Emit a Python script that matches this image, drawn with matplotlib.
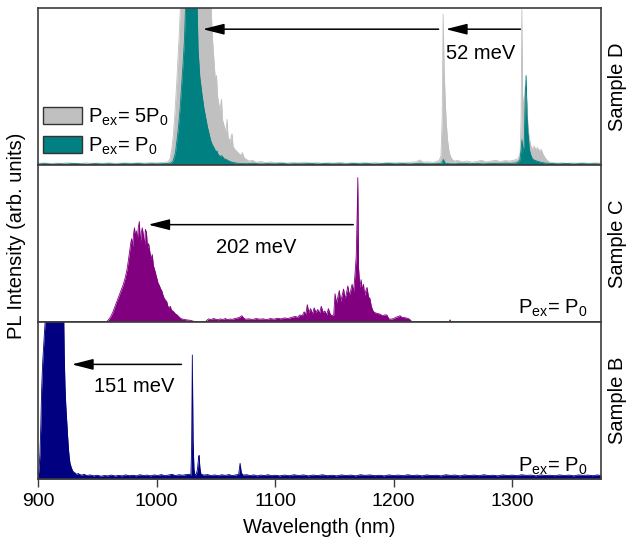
import numpy as np
import matplotlib
matplotlib.use("Agg")
import matplotlib.pyplot as plt
from matplotlib.patches import Patch

plt.rcParams['font.family'] = ['Liberation Sans', 'DejaVu Sans']
plt.rcParams['mathtext.fontset'] = 'custom'
plt.rcParams['mathtext.rm'] = 'Liberation Sans'

# Sample D, P_ex = 5 P0  (wavelength nm, normalised intensity)
d_high = [(900, .010), (905, .013), (910, .009), (915, .012), (920, .010), (925, .014), (930, .011),
          (935, .009), (940, .013), (945, .010), (950, .012), (955, .011), (960, .014), (965, .010),
          (970, .012), (975, .013), (980, .011), (985, .014), (990, .012), (995, .015), (1000, .013),
          (1004, .016), (1008, .018), (1010, .022), (1011.4, .04), (1012.8, .10), (1014.2, .19),
          (1015.6, .34), (1017, .52), (1018.2, .70), (1019.2, .84), (1020.7, 1.1), (1025, 1.6),
          (1030, 1.8), (1035, 1.7), (1040, 1.5), (1045, 1.2), (1046.3, .95), (1047.2, .80),
          (1048.5, .66), (1049.8, .52), (1050.6, .57), (1051.4, .44), (1052.5, .39), (1053.5, .35),
          (1054.8, .42), (1055.6, .29), (1057, .25), (1058.5, .21), (1059.5, .29), (1060.3, .18),
          (1062, .15), (1063.7, .20), (1064.5, .12), (1066, .10), (1068, .085), (1070, .07),
          (1071.5, .06), (1072.3, .08), (1074, .045), (1076, .035), (1078, .025), (1081, .03),
          (1084, .018), (1088, .022), (1092, .015), (1096, .02), (1100, .014), (1105, .018),
          (1110, .012), (1115, .016), (1120, .013), (1125, .018), (1130, .012), (1135, .015),
          (1140, .011), (1145, .014), (1150, .012), (1155, .016), (1160, .011), (1165, .014),
          (1170, .012), (1175, .015), (1180, .012), (1185, .014), (1190, .011), (1195, .016),
          (1200, .013), (1205, .015), (1210, .014), (1215, .018), (1219, .02), (1222, .032),
          (1225, .018), (1229, .02), (1233, .016), (1236, .022), (1238.5, .03), (1240, .06),
          (1241, .3), (1241.8, .96), (1242.6, .62), (1243.5, .42), (1244.5, .26), (1245.5, .16),
          (1246.5, .1), (1247.5, .065), (1249, .04), (1251, .025), (1254, .03), (1258, .02),
          (1262, .025), (1266, .018), (1270, .022), (1274, .03), (1278, .02), (1282, .025),
          (1286, .03), (1290, .022), (1294, .028), (1298, .025), (1302, .032), (1305, .04),
          (1306.8, .08), (1307.6, .3), (1308.2, .99), (1308.8, .45), (1310, .35), (1311, .5),
          (1312, .45), (1313, .3), (1314, .2), (1315.5, .13), (1317, .1), (1318.5, .12),
          (1320, .1), (1321.5, .11), (1323, .09), (1324.5, .1), (1326, .07), (1327.5, .05),
          (1329, .035), (1331, .02), (1334, .015), (1338, .012), (1342, .014), (1346, .011),
          (1350, .013), (1355, .012), (1360, .014), (1365, .011), (1370, .013), (1375, .012)]

# Sample D, P_ex = P0
d_low = [(900, .006), (906, .009), (912, .005), (918, .008), (924, .006), (930, .010), (936, .007),
         (942, .005), (948, .009), (954, .006), (960, .008), (966, .005), (972, .009), (978, .007),
         (984, .010), (990, .006), (996, .008), (1002, .007), (1008, .009), (1012, .012),
         (1014, .025), (1016, .08), (1018.4, .23), (1020, .37), (1021.3, .52), (1022.5, .66),
         (1023.5, .79), (1024.9, 1.1), (1028, 1.5), (1031, 1.4), (1034, 1.1), (1035, .74),
         (1036.5, .56), (1037.5, .5), (1038.5, .44), (1040, .36), (1041.5, .3), (1043, .24),
         (1044, .21), (1045.5, .16), (1047, .13), (1048.5, .11), (1050, .085), (1051, .09),
         (1052, .065), (1054, .055), (1055, .06), (1057, .04), (1059, .035), (1062, .022),
         (1066, .014), (1070, .010), (1076, .008), (1082, .011), (1088, .006), (1094, .009),
         (1100, .007), (1106, .010), (1112, .006), (1118, .008), (1124, .007), (1130, .010),
         (1136, .006), (1142, .009), (1148, .007), (1154, .008), (1160, .006), (1166, .010),
         (1172, .007), (1178, .009), (1184, .006), (1190, .008), (1196, .010), (1202, .007),
         (1208, .009), (1214, .006), (1220, .010), (1226, .008), (1232, .007), (1238, .009),
         (1240.5, .012), (1242, .035), (1243.5, .012), (1247, .008), (1252, .007), (1258, .011),
         (1264, .008), (1270, .010), (1276, .007), (1282, .011), (1288, .009), (1294, .012),
         (1300, .010), (1304, .014), (1306.5, .03), (1307.6, .1), (1308.3, .16), (1309.2, .08),
         (1310.2, .13), (1311, .42), (1311.8, .57), (1312.6, .32), (1313.5, .2), (1314.5, .1),
         (1315.5, .07), (1317, .04), (1319, .03), (1321, .025), (1324, .018), (1328, .012),
         (1334, .009), (1340, .007), (1346, .010), (1352, .006), (1358, .009), (1364, .007),
         (1370, .008), (1375, .006)]

# Sample C, P_ex = P0
c_low = [(900, 0), (957, 0), (958.5, .006), (961, .03), (963, .06), (964.5, .09), (966.4, .13),
         (968, .16), (970, .2), (972, .24), (973.5, .28), (975, .33), (976.2, .39), (977.3, .45),
         (978.2, .5), (979, .53), (979.8, .48), (980.6, .56), (981.4, .6), (982.2, .54), (983, .58),
         (983.8, .52), (984.6, .6), (985.5, .64), (986.3, .5), (987.2, .57), (988, .6), (988.9, .55),
         (989.8, .48), (990.6, .59), (991.5, .57), (992.4, .47), (993.3, .5), (994.5, .44),
         (995.5, .4), (996.4, .43), (997.3, .36), (998.5, .33), (999.5, .3), (1000.2, .28),
         (1001.2, .25), (1002.5, .23), (1003.5, .21), (1004.4, .2), (1005.5, .17), (1006.5, .15),
         (1007.5, .14), (1008.6, .13), (1009.6, .1), (1010.6, .09), (1011.6, .1), (1012.6, .075),
         (1013.9, .07), (1015, .06), (1016.2, .05), (1017.5, .045), (1018.6, .035), (1019.8, .027),
         (1021, .02), (1023, .017), (1025, .014), (1027, .012), (1029, .01), (1031, .005),
         (1034, .002), (1038, 0), (1041, 0), (1042.6, .012), (1044, .02), (1046, .015), (1048, .022),
         (1050, .018), (1052, .014), (1054, .02), (1056, .016), (1058, .022), (1060, .015),
         (1062, .019), (1064, .017), (1066, .022), (1068, .025), (1070, .03), (1072, .04),
         (1073.5, .025), (1075, .018), (1078, .02), (1081, .016), (1084, .022), (1087, .018),
         (1090, .02), (1093, .015), (1096, .022), (1099, .018), (1102, .024), (1105, .02),
         (1108, .026), (1111, .022), (1114, .03), (1117, .035), (1119, .03), (1121, .045),
         (1123, .04), (1124.5, .065), (1126, .05), (1127.2, .11), (1128.5, .06), (1130, .085),
         (1131.5, .05), (1133, .09), (1134.5, .06), (1136, .08), (1137.5, .055), (1139, .1),
         (1140.5, .06), (1142, .07), (1143.5, .045), (1145, .085), (1146.5, .05), (1148, .04),
         (1149.5, .045), (1150.6, .18), (1151.8, .12), (1153, .16), (1154.2, .2), (1155.4, .13),
         (1156.6, .17), (1157.8, .21), (1159, .15), (1160.2, .18), (1161.4, .23), (1162.6, .17),
         (1163.8, .2), (1165, .24), (1166.2, .19), (1167.4, .3), (1168.5, .42), (1169.3, .7),
         (1169.8, .92), (1170.4, .35), (1171.5, .22), (1172.6, .27), (1173.6, .2), (1174.6, .24),
         (1175.6, .17), (1176.6, .2), (1177.6, .22), (1178.8, .16), (1180, .15), (1181.2, .1),
         (1182.7, .07), (1184, .06), (1186, .055), (1188.6, .05), (1190.5, .04), (1192.5, .045),
         (1194.3, .045), (1196, .02), (1198, .018), (1200, .022), (1202, .03), (1204, .035),
         (1205.5, .04), (1207, .03), (1209, .028), (1211, .025), (1213, .02), (1214.5, .01),
         (1215.5, 0), (1246.8, 0), (1247.7, .014), (1248.6, 0), (1375, 0)]

# Sample B, P_ex = P0
b_low = [(900, .01), (900.5, .04), (901.1, .09), (901.7, .17), (902.4, .35), (903.1, .58), (904, .75),
         (905, .88), (906, 1.0), (907.3, 1.2), (910, 1.5), (914, 1.6), (918, 1.5), (921.4, 1.2),
         (922.1, .8), (922.8, .58), (923.5, .46), (924.2, .37), (924.9, .28), (925.6, .2),
         (926.3, .14), (927, .1), (928, .075), (929, .055), (929.8, .046), (931, .04), (932.5, .03),
         (934, .035), (935.4, .028), (937, .025), (939, .03), (941, .022), (944, .026), (947, .02),
         (950, .024), (953, .018), (956, .022), (959, .02), (962, .025), (965, .019), (968, .023),
         (971, .02), (974, .026), (977, .021), (980, .024), (983, .02), (986, .027), (989, .022),
         (992, .025), (995, .02), (998, .026), (1001, .022), (1004, .028), (1007, .021),
         (1010, .025), (1013, .03), (1016, .022), (1019, .027), (1022, .024), (1025, .028),
         (1027.5, .03), (1029, .025), (1029.6, .2), (1030.2, .79), (1030.8, .25), (1031.6, .06),
         (1032.5, .025), (1033.5, .03), (1034.5, .06), (1035.4, .13), (1035.9, .15), (1036.6, .07),
         (1037.5, .03), (1040, .025), (1043, .028), (1046, .022), (1049, .026), (1052, .021),
         (1055, .027), (1058, .023), (1061, .028), (1064, .022), (1067, .026), (1069.3, .03),
         (1070.5, .1), (1071.5, .04), (1073, .025), (1076, .027), (1079, .022), (1082, .026),
         (1085, .02), (1088, .025), (1091, .022), (1094, .027), (1097, .021), (1100, .024),
         (1104, .02), (1108, .025), (1112, .021), (1116, .027), (1120, .022), (1124, .026),
         (1128, .02), (1132, .025), (1136, .022), (1140, .027), (1144, .021), (1148, .024),
         (1152, .02), (1156, .026), (1160, .022), (1164, .025), (1168, .02), (1172, .027),
         (1176, .023), (1180, .026), (1184, .021), (1188, .024), (1192, .02), (1196, .026),
         (1200, .022), (1204, .025), (1208, .021), (1212, .027), (1216, .022), (1220, .025),
         (1224, .02), (1228, .026), (1232, .022), (1236, .024), (1240, .02), (1244, .027),
         (1248, .023), (1252, .025), (1256, .02), (1260, .026), (1264, .022), (1268, .025),
         (1272, .021), (1276, .027), (1280, .022), (1284, .024), (1288, .02), (1292, .026),
         (1296, .022), (1300, .025), (1304, .021), (1308, .027), (1312, .023), (1316, .025),
         (1320, .02), (1324, .026), (1328, .022), (1332, .024), (1336, .021), (1340, .026),
         (1344, .022), (1348, .025), (1352, .02), (1356, .026), (1360, .023), (1364, .025),
         (1368, .021), (1372, .026), (1375, .022)]

# arrows: (tip wavelength, tail wavelength, height) and energy labels
arrows_d = [(1039, 1238, 0.865), (1244, 1307, 0.865)]
arrow_c = (993, 1166, 0.62)
arrow_b = (928.5, 1021, 0.73)
shift_labels = ["52 meV", "202 meV", "151 meV"]
sample_names = ["Sample D", "Sample C", "Sample B"]

col_gray = '#c0c0c0'
col_teal = '#008080'
col_purple = '#800080'
col_navy = '#000080'
spine_col = '#3c3c3c'
fs = 14.5

fig, axes = plt.subplots(3, 1, figsize=(6.26, 5.49), dpi=100, sharex=True)
fig.subplots_adjust(left=38/626, right=601/626, top=1-8/549, bottom=1-479/549, hspace=0)


def draw_spec(ax, data, color):
    wl, inten = np.array(data).T
    ax.fill_between(wl, 0, inten, color=color, lw=0)
    ax.plot(wl, inten, color=color, lw=0.6)


def arrow(ax, tip, tail, y):
    ax.annotate('', xy=(tip, y), xytext=(tail, y),
                arrowprops=dict(arrowstyle='-|>,head_length=1.3,head_width=0.33',
                                mutation_scale=10, color='black', lw=1.1,
                                shrinkA=0, shrinkB=0))


draw_spec(axes[0], d_high, col_gray)
draw_spec(axes[0], d_low, col_teal)
draw_spec(axes[1], c_low, col_purple)
draw_spec(axes[2], b_low, col_navy)

for ax, name in zip(axes, sample_names):
    ax.set_xlim(900, 1375)
    ax.set_ylim(0, 1)
    ax.set_yticks([])
    for s in ax.spines.values():
        s.set_color(spine_col)
        s.set_linewidth(1.2)
    ax.text(1.03, 0.5, name, transform=ax.transAxes, rotation=90,
            ha='center', va='center', fontsize=fs)

for ax in axes[:2]:
    ax.tick_params(axis='x', bottom=False, labelbottom=False)

axes[2].set_xticks([900, 1000, 1100, 1200, 1300])
axes[2].tick_params(axis='x', direction='out', length=6, width=1, color=spine_col,
                    labelsize=14, pad=4)
axes[2].set_xlabel('Wavelength (nm)', fontsize=fs, labelpad=6)
fig.text(17/626, 1-236/549, 'PL Intensity (arb. units)', rotation=90,
         ha='center', va='center', fontsize=fs)

# arrows and labels
for tip, tail, y in arrows_d:
    arrow(axes[0], tip, tail, y)
arrow(axes[1], *arrow_c)
arrow(axes[2], *arrow_b)
axes[0].text(1244.5, 0.71, shift_labels[0], ha='left', va='center', fontsize=fs)
axes[1].text(1050, 0.475, shift_labels[1], ha='left', va='center', fontsize=fs)
axes[2].text(947.5, 0.59, shift_labels[2], ha='left', va='center', fontsize=fs)

p0_label = r'P$_\mathregular{ex}$= P$_\mathregular{0}$'
axes[1].text(1363, 0.05, p0_label, ha='right', va='baseline', fontsize=fs)
axes[2].text(1363, 0.045, p0_label, ha='right', va='baseline', fontsize=fs)

handles = [Patch(facecolor=col_gray, edgecolor='#333333', lw=1),
           Patch(facecolor=col_teal, edgecolor='#333333', lw=1)]
labels = [r'P$_\mathregular{ex}$= 5P$_\mathregular{0}$', p0_label]
axes[0].legend(handles, labels, loc='lower left', bbox_to_anchor=(5/563, 8/155),
               frameon=False, fontsize=fs, handlelength=1.95, handleheight=0.95,
               labelspacing=0.4, handletextpad=0.3, borderpad=0, borderaxespad=0)

fig.savefig('out.png', dpi=100)
